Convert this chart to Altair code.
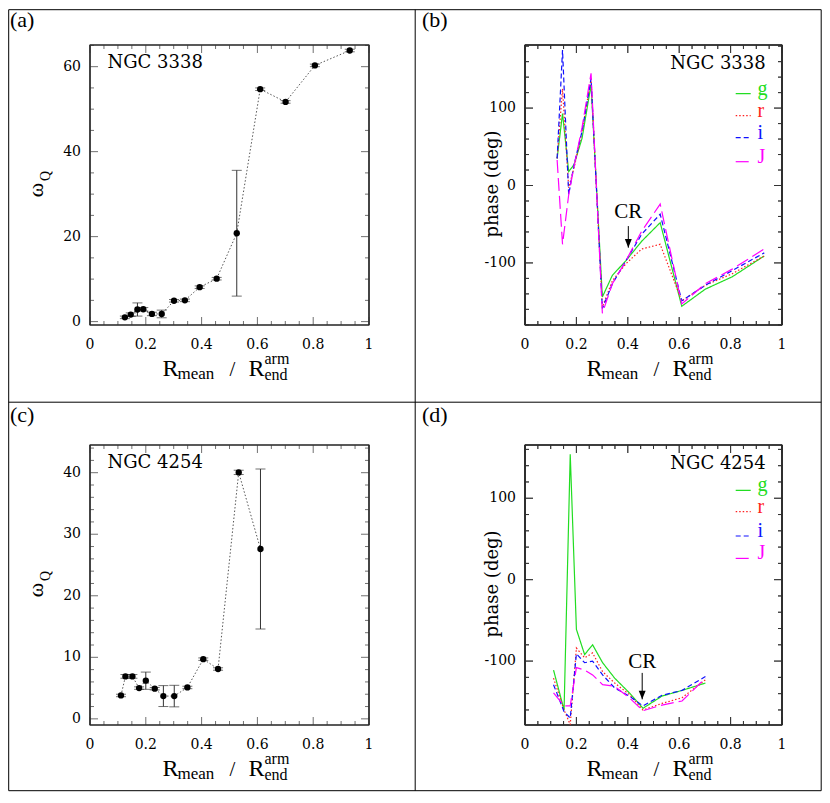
import altair as alt
import pandas as pd

# ---------------- data ----------------
# panel (a): NGC 3338 omega_Q
x_a = [0.125, 0.146, 0.170, 0.191, 0.222, 0.257, 0.301, 0.340, 0.393, 0.454, 0.526, 0.610, 0.701, 0.806, 0.931]
omega_a = [1.0, 1.65, 2.85, 2.9, 1.8, 1.8, 4.9, 5.0, 8.1, 10.1, 20.8, 54.7, 51.7, 60.3, 63.8]
err_a = [0.3, 0.4, 1.55, 0.4, 0.4, 0.9, 0.3, 0.3, 0.3, 0.3, 14.8, 0.3, 0.3, 0.3, 0.3]

# panel (b): NGC 3338 phase (deg)
x_b = [0.125, 0.146, 0.170, 0.191, 0.222, 0.257, 0.301, 0.340, 0.393, 0.454, 0.526, 0.610, 0.701, 0.806, 0.931]
g_b = [35, 93, 18, 27, 61, 130, -144, -116, -97, -72, -48, -156, -134, -118, -91]
r_b = [35, 125, -3, 23, 70, 138, -157, -123, -101, -82, -76, -149, -129, -114, -91]
i_b = [35, 175, -12, 27, 70, 138, -159, -127, -97, -63, -37, -149, -129, -110, -87]
J_b = [33, -76, -12, 25, 75, 145, -165, -127, -97, -59, -24, -153, -127, -108, -82]
cr_b = [0.402, -41.7, -52.4, -80.3]  # x, text baseline, arrow start, arrow tip

# panel (c): NGC 4254 omega_Q
x_c = [0.111, 0.127, 0.152, 0.176, 0.200, 0.232, 0.263, 0.302, 0.349, 0.406, 0.459, 0.533, 0.611]
omega_c = [3.8, 6.9, 6.9, 5.0, 6.2, 4.9, 3.7, 3.7, 5.1, 9.7, 8.1, 40.05, 27.6]
err_c = [0.2, 0.3, 0.3, 0.2, 1.4, 0.2, 1.7, 1.75, 0.2, 0.2, 0.2, 0.35, 13.0]

# panel (d): NGC 4254 phase (deg)
x_d = [0.111, 0.152, 0.176, 0.200, 0.232, 0.263, 0.302, 0.349, 0.406, 0.459, 0.533, 0.611, 0.702]
g_d = [-111, -160, 154, -61, -92, -80, -102, -121, -139, -158, -143, -136, -127]
r_d = [-121, -160, -178, -84, -96, -90, -113, -127, -141, -160, -152, -145, -123]
i_d = [-129, -162, -170, -91, -102, -100, -117, -133, -143, -155, -142, -136, -119]
J_d = [-139, -155, -155, -108, -111, -117, -129, -131, -145, -161, -154, -149, -121]
cr_d = [0.456, -108.7, -114.5, -147.0]

bands = ["g", "r", "i", "J"]
band_colors = ["#22dd22", "#ff2020", "#1010ff", "#ff00ff"]
band_dash = [[1, 0], [1.5, 2], [5, 3], [13, 5]]

# tick values and labels
x_major = [0, 0.2, 0.4, 0.6, 0.8, 1]
x_labels = ["0", "0.2", "0.4", "0.6", "0.8", "1"]
x_minor = [0.05, 0.1, 0.15, 0.25, 0.3, 0.35, 0.45, 0.5, 0.55, 0.65, 0.7, 0.75, 0.85, 0.9, 0.95]
ya_major = [0, 20, 40, 60]
ya_minor = [5, 10, 15, 25, 30, 35, 45, 50, 55, 65]
yc_major = [0, 10, 20, 30, 40]
yc_minor = [2, 4, 6, 8, 12, 14, 16, 18, 22, 24, 26, 28, 32, 34, 36, 38, 42, 44]
yp_major = [-100, 0, 100]
yb_minor = [-180, -160, -140, -120, -80, -60, -40, -20, 20, 40, 60, 80, 120, 140, 160, 180]
yd_minor = [-160, -140, -120, -80, -60, -40, -20, 20, 40, 60, 80, 120, 140, 160]

NUM = "DejaVu Serif"
TXT = "Liberation Serif"
TICK = "#333333"
FRAME = "#222222"

W1, W2, H = 279, 257, 280
GAP_X, GAP_Y = 156, 120
YDOM_B = [-180.2, 181.5]
YDOM_D = [-178.5, 165.4]


def txt(s, x, y, size, font=TXT, align="left", baseline="alphabetic", angle=0, color="black"):
    kw = dict(align=align, baseline=baseline, fontSize=size, font=font, color=color)
    if angle:
        kw["angle"] = angle
    return alt.Chart(pd.DataFrame({"t": [s]})).mark_text(**kw).encode(
        x=alt.value(x), y=alt.value(y), text="t:N")


def seg(x1, y1, x2, y2, color="black", width=1.0, dash=None):
    kw = dict(color=color, strokeWidth=width)
    if dash:
        kw["strokeDash"] = dash
    return alt.Chart(pd.DataFrame({"k": [0]})).mark_rule(**kw).encode(
        x=alt.value(x1), y=alt.value(y1), x2=alt.value(x2), y2=alt.value(y2))


def X(f, s):
    return alt.X(f, scale=s, axis=None)


def Y(f, s):
    return alt.Y(f, scale=s, axis=None)


def frame_layers(xs, ys, w, h, ymaj, ymin):
    out = [alt.Chart(pd.DataFrame({"f": [1]})).mark_rect(
        filled=False, color=FRAME, strokeWidth=1.2).encode(
        x=alt.value(0), x2=alt.value(w), y=alt.value(0), y2=alt.value(h))]
    out += [seg(0, 0, w, 0, FRAME, 1.2, [1, 0]), seg(0, h, w, h, FRAME, 1.2, [1, 0]),
            seg(0, 0, 0, h, FRAME, 1.2, [1, 0]), seg(w, 0, w, h, FRAME, 1.2, [1, 0])]
    for vals, L in ((x_major, 8), (x_minor, 4)):
        base = alt.Chart(pd.DataFrame({"v": vals})).mark_tick(
            orient="vertical", size=L, thickness=1, color=TICK)
        out.append(base.encode(x=X("v:Q", xs), y=alt.value(h - L / 2)))
        out.append(base.encode(x=X("v:Q", xs), y=alt.value(L / 2)))
    for vals, L in ((ymaj, 8), (ymin, 4)):
        base = alt.Chart(pd.DataFrame({"v": vals})).mark_tick(
            orient="horizontal", size=L, thickness=1, color=TICK)
        out.append(base.encode(y=Y("v:Q", ys), x=alt.value(L / 2)))
        out.append(base.encode(y=Y("v:Q", ys), x=alt.value(w - L / 2)))
    out.append(alt.Chart(pd.DataFrame({"v": x_major, "t": x_labels})).mark_text(
        font=NUM, fontSize=14, align="center", baseline="top", color="black").encode(
        x=X("v:Q", xs), y=alt.value(h + 13), text="t:N"))
    out.append(alt.Chart(pd.DataFrame({"v": ymaj, "t": [str(v) for v in ymaj]})).mark_text(
        font=NUM, fontSize=14, align="right", baseline="middle", color="black").encode(
        y=Y("v:Q", ys), x=alt.value(-9), text="t:N"))
    return out


def right_frame(oy, ydom, ymin):
    """Frame and inward ticks of a right-hand panel, drawn from panel (a)'s layer."""
    ox = W1 + GAP_X
    out = [seg(ox, oy, ox + W2, oy, FRAME, 1.2), seg(ox, oy + H, ox + W2, oy + H, FRAME, 1.2),
           seg(ox, oy, ox, oy + H, FRAME, 1.2), seg(ox + W2, oy, ox + W2, oy + H, FRAME, 1.2)]
    for vals, L in ((x_major, 8), (x_minor, 4)):
        for v in vals:
            px = ox + v * W2
            out.append(seg(px, oy + H, px, oy + H - L, TICK))
            out.append(seg(px, oy, px, oy + L, TICK))
    for vals, L in ((yp_major, 8), (ymin, 4)):
        for v in vals:
            py = oy + (ydom[1] - v) / (ydom[1] - ydom[0]) * H
            out.append(seg(ox, py, ox + L, py, TICK))
            out.append(seg(ox + W2, py, ox + W2 - L, py, TICK))
    return out


def xtitle(w, h):
    cx = w / 2
    b = h + 51
    return [
        txt("R", cx - 67, b, 24),
        txt("mean", cx - 52, b + 3, 17),
        txt("/", cx + 3, b, 21, align="center"),
        txt("R", cx + 19, b, 24),
        txt("arm", cx + 35, b - 12, 16),
        txt("end", cx + 35, b + 4, 16),
    ]


def omega_title():
    return [
        txt("ω", -54, 145, 22, align="center", baseline="middle", angle=270),
        txt("Q", -44, 131, 14, align="center", baseline="middle", angle=270),
    ]


def omega_panel(xv, yv, ev, ydom, ymaj, ymin, name, letter, letter_y):
    xs = alt.Scale(domain=[0, 1], nice=False, zero=False)
    ys = alt.Scale(domain=ydom, nice=False, zero=False)
    df = pd.DataFrame({"x": xv, "w": yv,
                       "lo": [a - b for a, b in zip(yv, ev)],
                       "hi": [a + b for a, b in zip(yv, ev)]})
    base = alt.Chart(df)
    line = base.mark_line(color="#555555", strokeDash=[1.5, 2], strokeWidth=1).encode(
        x=X("x:Q", xs), y=Y("w:Q", ys))
    bars = base.mark_rule(color=TICK, strokeWidth=1).encode(
        x=X("x:Q", xs), y=Y("lo:Q", ys), y2="hi:Q")
    cap_lo = base.mark_tick(orient="horizontal", size=10, thickness=1, color=TICK).encode(
        x=X("x:Q", xs), y=Y("lo:Q", ys))
    cap_hi = base.mark_tick(orient="horizontal", size=10, thickness=1, color=TICK).encode(
        x=X("x:Q", xs), y=Y("hi:Q", ys))
    pts = base.mark_circle(size=40, color="black", opacity=1).encode(
        x=X("x:Q", xs), y=Y("w:Q", ys))
    layers = frame_layers(xs, ys, W1, H, ymaj, ymin)
    layers += [line, bars, cap_lo, cap_hi, pts]
    layers += [txt(name, 17.4, 23.4, 18, font=NUM)]
    layers += xtitle(W1, H) + omega_title()
    layers += [txt(letter, -80, letter_y, 22, baseline="top")]
    return layers


def phase_panel(xv, series, ydom, ymin, cr, name, letter, letter_y, leg_y):
    xs = alt.Scale(domain=[0, 1], nice=False, zero=False)
    ys = alt.Scale(domain=ydom, nice=False, zero=False)
    layers = frame_layers(xs, ys, W2, H, yp_major, ymin)
    for b, c, d, vals in zip(bands, band_colors, band_dash, series):
        df = pd.DataFrame({"x": xv, "p": vals})
        layers.append(alt.Chart(df).mark_line(strokeWidth=1.2, color=c, strokeDash=d).encode(
            x=X("x:Q", xs), y=Y("p:Q", ys)))
    crdf = pd.DataFrame({"x": [cr[0]], "t": ["CR"], "yt": [cr[1]], "y1": [cr[2]], "y2": [cr[3]]})
    cr_text = alt.Chart(crdf).mark_text(font=TXT, fontSize=21, align="center", baseline="alphabetic",
                                        color="black").encode(
        x=X("x:Q", xs), y=Y("yt:Q", ys), text="t:N")
    cr_shaft = alt.Chart(crdf).mark_rule(color="black", strokeWidth=1).encode(
        x=X("x:Q", xs), y=Y("y1:Q", ys), y2="y2:Q")
    cr_head = alt.Chart(crdf).mark_point(shape="M-0.4,-1L0.4,-1L0,0Z", size=300, filled=True,
                                         color="black", opacity=1).encode(
        x=X("x:Q", xs), y=Y("y2:Q", ys))
    layers += [cr_shaft, cr_head, cr_text]
    layers += [txt(name, 240.7, 23.5, 18, font=NUM, align="right")]
    for b, c, d, yy in zip(bands, band_colors, band_dash, leg_y):
        layers.append(seg(210.7, yy, 225.7, yy, color=c, width=1.2, dash=d))
        layers.append(txt(b, 232.4, yy + 1, 20, color=c))
    layers += xtitle(W2, H)
    layers += [txt("phase (deg)", -32, 139, 18, font=NUM, align="center", baseline="middle", angle=270)]
    layers += [txt(letter, -103, letter_y, 22, baseline="top")]
    return layers


# ---- frame of the whole figure (drawn relative to panel (a)); kept inside the 830x803 page ----
L0, T0 = -81.3, -35.3
R0, B0 = 820.5 - 89.3, 789 - 43.3
XM, YM = 414.5 - 89.3, 400.5 - 43.3
border = [
    seg(L0, T0, R0, T0), seg(L0, B0, R0, B0), seg(L0, T0, L0, B0), seg(R0, T0, R0, B0),
    seg(XM, T0, XM, B0), seg(L0, YM, R0, YM),
]
border += right_frame(0, YDOM_B, yb_minor) + right_frame(H + GAP_Y, YDOM_D, yd_minor)

pa = alt.layer(*(omega_panel(x_a, omega_a, err_a, [-0.8, 65.1], ya_major, ya_minor, "NGC 3338", "(a)", -35.3)
                 + border)).properties(width=W1, height=H)
pb = alt.layer(*phase_panel(x_b, [g_b, r_b, i_b, J_b], YDOM_B, yb_minor, cr_b, "NGC 3338", "(b)",
                            -35.3, [48.7, 70.7, 92.7, 116.7])).properties(width=W2, height=H)
pc = alt.layer(*omega_panel(x_c, omega_c, err_c, [-1.0, 44.5], yc_major, yc_minor, "NGC 4254", "(c)", -40.0)
               ).properties(width=W1, height=H)
pd_ = alt.layer(*phase_panel(x_d, [g_d, r_d, i_d, J_d], YDOM_D, yd_minor, cr_d, "NGC 4254", "(d)",
                             -40.0, [45.4, 66.7, 91.0, 113.4])).properties(width=W2, height=H)

chart = alt.concat(pa, pb, pc, pd_, columns=2, bounds="flush",
                   spacing=alt.RowColnumber(row=GAP_Y, column=GAP_X)).resolve_scale(
    x="independent", y="independent"
).properties(padding=0).configure_view(stroke=None)

chart.save("out.html", embed_options={"renderer": "svg", "actions": False})
